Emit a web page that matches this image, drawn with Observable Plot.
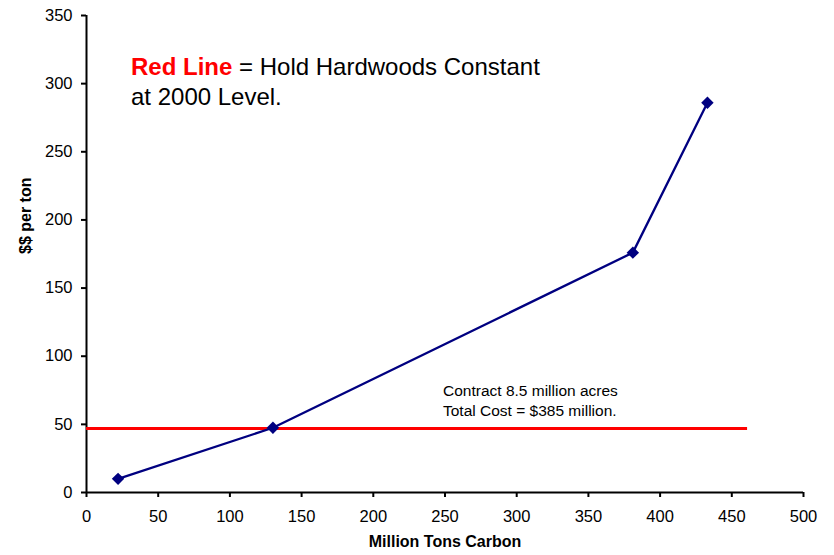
<!DOCTYPE html>
<html>
<head>
<meta charset="utf-8">
<script src="https://cdn.jsdelivr.net/npm/d3@7"></script>
<script src="https://cdn.jsdelivr.net/npm/@observablehq/plot@0.6"></script>
<style>
  body { margin: 0; background: #fff; }
  #chart svg { font-family: "Liberation Sans", Arial, sans-serif; }
</style>
</head>
<body>
<div id="chart"></div>
<script>
const carbon = [22, 130, 381, 433];
const costPerTon = [10, 47.5, 176, 286];
const redLevel = 47;
const redLineExtent = [0, 461];
const xTicks = [0, 50, 100, 150, 200, 250, 300, 350, 400, 450, 500];
const yTicks = [0, 50, 100, 150, 200, 250, 300, 350];
const legendLines = ["Red Line", " = Hold Hardwoods Constant", "at 2000 Level."];
const noteLines = ["Contract 8.5 million acres", "Total Cost = $385 million."];
const xLabel = "Million Tons Carbon";
const yLabel = "$$ per ton";

const points = carbon.map((x, i) => ({x, y: costPerTon[i]}));
const FONT = "Liberation Sans, Arial, sans-serif";

const chart = Plot.plot({
  width: 834,
  height: 555,
  marginLeft: 86,
  marginRight: 31,
  marginTop: 15,
  marginBottom: 63,
  style: {fontFamily: FONT, background: "#fff"},
  x: {domain: [0, 500]},
  y: {domain: [0, 350]},
  marks: [
    Plot.axisX({ticks: xTicks, tickSize: 5, tickPadding: 13, fontSize: 16.5, strokeWidth: 2, stroke: "#000", color: "#000", label: null}),
    Plot.axisY({ticks: yTicks, tickSize: 5, tickPadding: 9, fontSize: 16.5, strokeWidth: 2, stroke: "#000", color: "#000", label: null}),
    Plot.ruleX([0], {stroke: "#000", strokeWidth: 2}),
    Plot.ruleY([0], {stroke: "#000", strokeWidth: 2}),
    Plot.ruleY([redLevel], {x1: redLineExtent[0], x2: redLineExtent[1], stroke: "#ff0000", strokeWidth: 3}),
    Plot.line(points, {x: "x", y: "y", stroke: "#000080", strokeWidth: 2.3}),
    Plot.dot(points, {x: "x", y: "y", symbol: "diamond2", r: 5.6, fill: "#000080", stroke: "none"}),
    Plot.text([xLabel], {frameAnchor: "bottom", dy: 54, fontWeight: "bold", fontSize: 16, fill: "#000"}),
    Plot.text([yLabel], {frameAnchor: "left", dx: -61, rotate: -90, fontWeight: "bold", fontSize: 16, fill: "#000"})
  ]
});

const svg = d3.select(chart);
// Legend-style annotation (top-left)
const t1 = svg.append("text").attr("x", 131).attr("y", 75).attr("font-size", 24).attr("fill", "#000")
  .attr("text-anchor", "start").attr("font-family", FONT);
t1.append("tspan").attr("fill", "#ff0000").attr("font-weight", "bold").text(legendLines[0]);
t1.append("tspan").text(legendLines[1]);
svg.append("text").attr("x", 131).attr("y", 105).attr("font-size", 24).attr("fill", "#000")
  .attr("text-anchor", "start").attr("font-family", FONT).text(legendLines[2]);

// Note near red line
noteLines.forEach((s, i) => {
  svg.append("text").attr("x", 443).attr("y", 396 + i * 20).attr("font-size", 15.5).attr("fill", "#000")
    .attr("text-anchor", "start").attr("font-family", FONT).text(s);
});

document.getElementById("chart").appendChild(chart);
</script>
</body>
</html>
